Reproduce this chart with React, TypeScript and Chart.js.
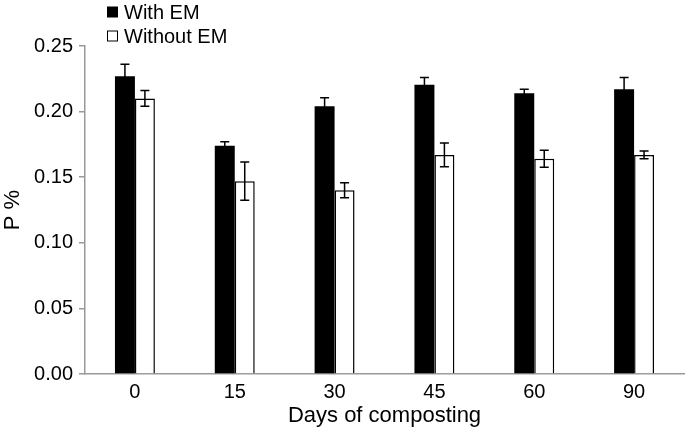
import React, { useEffect, useRef } from "react";
import { Chart, registerables } from "chart.js";

Chart.register(...registerables);

const categories = ["0", "15", "30", "45", "60", "90"];
const withEM = [0.227, 0.174, 0.204, 0.2205, 0.214, 0.217];
const withEMErr = [0.009, 0.003, 0.0065, 0.0055, 0.003, 0.009];
const withoutEM = [0.21, 0.147, 0.14, 0.167, 0.164, 0.167];
const withoutEMErr = [0.006, 0.0145, 0.0057, 0.009, 0.0065, 0.003];
const yTicks = [0, 0.05, 0.1, 0.15, 0.2, 0.25];

const FONT = "'Liberation Sans', Arial, Helvetica, sans-serif";

const errorBarPlugin = {
  id: "errorBars",
  afterDatasetsDraw(chart: any) {
    const ctx = chart.ctx;
    const yScale = chart.scales.y;
    const errs = [withEMErr, withoutEMErr];
    ctx.save();
    ctx.strokeStyle = "#000";
    ctx.lineWidth = 1.5;
    chart.data.datasets.forEach((ds: any, i: number) => {
      const meta = chart.getDatasetMeta(i);
      meta.data.forEach((el: any, j: number) => {
        const v = ds.data[j];
        const e = errs[i][j];
        const x = el.x;
        const yt = yScale.getPixelForValue(v + e);
        const yb = yScale.getPixelForValue(v - e);
        const cap = 4.5;
        ctx.beginPath();
        ctx.moveTo(x, yt);
        ctx.lineTo(x, yb);
        ctx.moveTo(x - cap, yt);
        ctx.lineTo(x + cap, yt);
        ctx.moveTo(x - cap, yb);
        ctx.lineTo(x + cap, yb);
        ctx.stroke();
      });
    });
    ctx.restore();
  },
};

const legendPlugin = {
  id: "customLegend",
  afterDraw(chart: any) {
    const ctx = chart.ctx;
    ctx.save();
    ctx.font = `20px ${FONT}`;
    ctx.textBaseline = "middle";
    ctx.fillStyle = "#000";
    const rows = [12, 36];
    chart.data.datasets.forEach((ds: any, i: number) => {
      const cy = rows[i];
      if (i === 0) {
        ctx.fillStyle = "#000";
        ctx.fillRect(107, cy - 5.5, 11, 11);
      } else {
        ctx.fillStyle = "#fff";
        ctx.fillRect(107.5, cy - 5, 10, 10);
        ctx.strokeStyle = "#000";
        ctx.lineWidth = 1;
        ctx.strokeRect(107.5, cy - 5, 10, 10);
      }
      ctx.fillStyle = "#000";
      ctx.fillText(ds.label, 124, cy + 1);
    });
    ctx.restore();
  },
};

export default function App() {
  const ref = useRef<HTMLCanvasElement | null>(null);
  useEffect(() => {
    if (!ref.current) return;
    const chart = new Chart(ref.current, {
      type: "bar",
      data: {
        labels: categories,
        datasets: [
          {
            label: "With EM",
            data: withEM,
            backgroundColor: "#000",
            borderColor: "#000",
            borderWidth: 0,
            categoryPercentage: 0.4,
            barPercentage: 1,
          },
          {
            label: "Without EM",
            data: withoutEM,
            backgroundColor: "#fff",
            borderColor: "#000",
            borderWidth: 1.5,
            categoryPercentage: 0.4,
            barPercentage: 1,
          },
        ],
      },
      options: {
        responsive: false,
        maintainAspectRatio: false,
        animation: false,
        layout: { padding: { top: 46, right: 1, left: 0, bottom: 0 } },
        plugins: {
          legend: { display: false },
          tooltip: { enabled: false },
        },
        scales: {
          x: {
            grid: { display: false, drawTicks: false, tickLength: 0 },
            border: { display: true, color: "#999", width: 1.5 },
            ticks: {
              color: "#000",
              font: { family: FONT, size: 20 },
              padding: 6,
            },
            title: {
              display: true,
              text: "Days of composting",
              color: "#000",
              font: { family: FONT, size: 22 },
              padding: { top: 0, bottom: -2 },
            },
            afterFit(scale: any) {
              scale.height = 53;
            },
          },
          y: {
            min: 0,
            max: 0.25,
            afterBuildTicks(scale: any) {
              scale.ticks = yTicks.map((v) => ({ value: v }));
            },
            grid: {
              drawOnChartArea: false,
              drawTicks: true,
              tickLength: 6,
              color: "#999",
              lineWidth: 1.5,
            },
            border: { display: true, color: "#999", width: 1.5 },
            ticks: {
              color: "#000",
              font: { family: FONT, size: 20 },
              padding: 6,
              callback: (v: any) => Number(v).toFixed(2),
            },
            title: {
              display: true,
              text: "P %",
              color: "#000",
              font: { family: FONT, size: 22 },
              padding: { top: 0, bottom: 0 },
            },
            afterFit(scale: any) {
              scale.width = 85;
            },
          },
        },
      },
      plugins: [errorBarPlugin, legendPlugin],
    });
    return () => chart.destroy();
  }, []);
  return (
    <div style={{ position: "absolute", left: 0, top: 0, width: 685, height: 427, background: "#fff" }}>
      <canvas ref={ref} width={685} height={427} />
    </div>
  );
}
